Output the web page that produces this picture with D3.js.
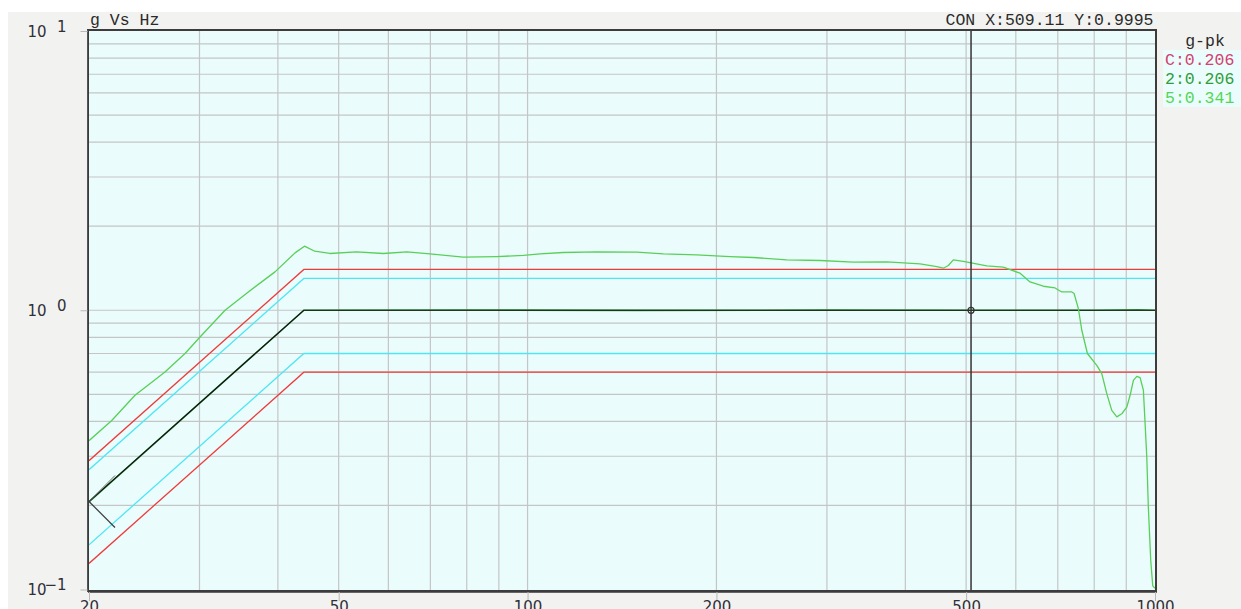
<!DOCTYPE html>
<html>
<head>
<meta charset="utf-8">
<script src="https://cdn.jsdelivr.net/npm/d3@7"></script>
<style>
  html, body { margin: 0; padding: 0; background: #ffffff; }
  svg { display: block; }
</style>
</head>
<body>
<svg id="chart" width="1241" height="609"></svg>
<script>
// ---- sweep profile breakpoints (Hz, g-pk) ----
const profileFreq = [20, 44, 1000];
const profileRef  = [0.2066, 1.0, 1.0];
const abortHigh   = [0.2893, 1.4, 1.4];
const alarmHigh   = [0.2686, 1.3, 1.3];
const alarmLow    = [0.1446, 0.7, 0.7];
const abortLow    = [0.1240, 0.6, 0.6];

// ---- channel 2 (tracks the control) ----
const ch2Freq = [20, 44, 80, 150, 300, 509.11, 800, 940, 1000];
const ch2Val  = [0.206, 1.0, 1.002, 0.999, 1.001, 0.9995, 1.0, 1.004, 1.0];

// ---- channel 5 response ----
const ch5Freq = [20, 21.74, 23.68, 26.43, 28.45, 30.06, 32.95, 35.89, 39.58, 42.6,
  44.1, 45.8, 48.4, 53.4, 58.9, 64.2, 69.9, 79.0, 89.3, 98.5,
  104.7, 114.0, 128.9, 149.3, 164.6, 186.0, 210.2, 229.0, 258.9, 292.6,
  330.6, 373.7, 422.3, 448.9, 459.9, 468.4, 477.1, 495.0, 539.3, 573.1,
  609.4, 632.2, 663.8, 693.0, 710.2, 736.9, 743.1, 754.9, 764.4, 780.3,
  807.6, 822.6, 837.8, 853.3, 869.2, 885.3, 901.7, 912.7, 923.8, 935.4,
  946.8, 958.3, 964.3, 970.3, 975.9, 984.5, 991.8, 1000];
const ch5Val = [0.341, 0.403, 0.496, 0.601, 0.700, 0.802, 1.000, 1.163, 1.372, 1.605,
  1.696, 1.627, 1.597, 1.618, 1.597, 1.618, 1.591, 1.549, 1.557, 1.571,
  1.591, 1.610, 1.618, 1.614, 1.591, 1.578, 1.557, 1.545, 1.515, 1.507,
  1.486, 1.490, 1.465, 1.434, 1.414, 1.446, 1.515, 1.495, 1.441, 1.426,
  1.357, 1.263, 1.219, 1.202, 1.163, 1.163, 1.148, 1.014, 0.848, 0.700,
  0.635, 0.593, 0.503, 0.438, 0.415, 0.426, 0.450, 0.496, 0.561, 0.580,
  0.574, 0.517, 0.393, 0.298, 0.197, 0.127, 0.103, 0.101];

// ---- cursor readout ----
const cursorFreq = 509.11;
const cursorVal = 0.9995;

// ---- axis ticks and labels ----
const xTickValues = [20, 50, 100, 200, 500, 1000];
const xGridValues = [30, 40, 50, 60, 70, 80, 90, 100, 200, 300, 400, 500, 600, 700, 800, 900];
const yGridValues = [0.2, 0.3, 0.4, 0.5, 0.6, 0.7, 0.8, 0.9, 1, 2, 3, 4, 5, 6, 7, 8, 9];
const yTickValues = [0.1, 1, 10];
const yTickExponents = ["\u22121", "0", "1"];

// ---- legend ----
const legendTitle = "g-pk";
const legendNames = ["C", "2", "5"];
const legendValues = [0.206, 0.206, 0.341];
const legendColors = ["#d2426e", "#2f9e3a", "#55d655"];

const titleText = "g Vs Hz";

const svg = d3.select("#chart");
const W = 1241, H = 609;
const plot = { left: 88, top: 30, right: 1156, bottom: 591 };

const x = d3.scaleLog().domain([20, 1000]).range([89, 1155]);
const y = d3.scaleLog().domain([0.1, 10]).range([589.5, 31]);

const monoFont = "'Liberation Mono', 'DejaVu Sans Mono', monospace";
const sansFont = "'DejaVu Sans', Verdana, sans-serif";

// panel background
svg.append("rect").attr("x", 0).attr("y", 0).attr("width", W).attr("height", H).attr("fill", "#ffffff");
svg.append("rect").attr("x", 8).attr("y", 12).attr("width", W - 8).attr("height", H - 12).attr("fill", "#f2f3f0");

// plot area
svg.append("rect")
  .attr("x", plot.left).attr("y", plot.top)
  .attr("width", plot.right - plot.left).attr("height", plot.bottom - plot.top)
  .attr("fill", "#ebfcfd");

svg.append("defs").append("clipPath").attr("id", "plotClip")
  .append("rect")
  .attr("x", plot.left + 1).attr("y", plot.top + 1)
  .attr("width", plot.right - plot.left - 2).attr("height", plot.bottom - plot.top - 2);

const grid = svg.append("g").attr("clip-path", "url(#plotClip)");
grid.selectAll("line.vg").data(xGridValues).join("line")
  .attr("class", "vg")
  .attr("x1", d => x(d)).attr("x2", d => x(d))
  .attr("y1", plot.top).attr("y2", plot.bottom)
  .attr("stroke", "#c4c6c6").attr("stroke-width", 1.2);
grid.selectAll("line.hg").data(yGridValues).join("line")
  .attr("class", "hg")
  .attr("x1", plot.left).attr("x2", plot.right)
  .attr("y1", d => y(d)).attr("y2", d => y(d))
  .attr("stroke", "#c4c6c6").attr("stroke-width", 1.2);

// data lines
const lineGen = (fs, vs) => d3.line().x((d, i) => x(fs[i])).y((d, i) => y(vs[i]))(vs);
const curves = svg.append("g").attr("clip-path", "url(#plotClip)").attr("fill", "none");

curves.append("path").attr("d", lineGen(profileFreq, abortHigh)).attr("stroke", "#f03a3a").attr("stroke-width", 1.3);
curves.append("path").attr("d", lineGen(profileFreq, alarmHigh)).attr("stroke", "#4fe6f4").attr("stroke-width", 1.3);
curves.append("path").attr("d", lineGen(profileFreq, alarmLow)).attr("stroke", "#4fe6f4").attr("stroke-width", 1.3);
curves.append("path").attr("d", lineGen(profileFreq, abortLow)).attr("stroke", "#f03a3a").attr("stroke-width", 1.3);

curves.append("path").attr("d", lineGen(ch2Freq, ch2Val)).attr("stroke", legendColors[1]).attr("stroke-width", 1.6);
curves.append("path").attr("d", lineGen(profileFreq, profileRef)).attr("stroke", "#141414").attr("stroke-width", 1.2);
curves.append("path").attr("d", lineGen(ch5Freq, ch5Val)).attr("stroke", "#58d058").attr("stroke-width", 1.3)
  .attr("stroke-linejoin", "round");

// start marker on the reference profile
const sx = x(profileFreq[0]), sy = y(profileRef[0]);
svg.append("path")
  .attr("d", `M${sx + 26},${sy - 26} L${sx},${sy}`)
  .attr("stroke", "#6a6a6a").attr("stroke-width", 1).attr("fill", "none");
svg.append("path")
  .attr("d", `M${sx},${sy} L${sx + 26},${sy + 26}`)
  .attr("stroke", "#3a3a3a").attr("stroke-width", 1.2).attr("fill", "none");

// cursor
const cx = x(cursorFreq);
svg.append("line")
  .attr("x1", cx).attr("x2", cx).attr("y1", plot.top).attr("y2", plot.bottom)
  .attr("stroke", "#333333").attr("stroke-width", 1.5);
svg.append("circle")
  .attr("cx", cx).attr("cy", y(cursorVal)).attr("r", 3)
  .attr("fill", "none").attr("stroke", "#333333").attr("stroke-width", 1.2);

// frame
svg.append("rect")
  .attr("x", plot.left).attr("y", plot.top)
  .attr("width", plot.right - plot.left).attr("height", plot.bottom - plot.top)
  .attr("fill", "none").attr("stroke", "#3c3c3c").attr("stroke-width", 2);
svg.append("line").attr("x1", plot.left - 0.5).attr("x2", plot.left - 0.5)
  .attr("y1", plot.top).attr("y2", plot.bottom + 1).attr("stroke", "#555").attr("stroke-width", 1);
svg.append("line").attr("x1", plot.left).attr("x2", plot.right + 1)
  .attr("y1", plot.bottom + 1.5).attr("y2", plot.bottom + 1.5).attr("stroke", "#666").attr("stroke-width", 1);

// x axis
const xAxis = d3.axisBottom(x)
  .tickValues(xTickValues)
  .tickFormat(d3.format("d"))
  .tickSize(9).tickPadding(0);
const gx = svg.append("g").attr("transform", `translate(0,${plot.bottom + 1})`).call(xAxis);
gx.select(".domain").remove();
gx.selectAll(".tick line").attr("stroke", "#b8b8b8");
gx.selectAll(".tick text").attr("fill", "#30303a").attr("font-family", sansFont).attr("font-size", 15);

// y axis
const yAxis = d3.axisLeft(y).tickValues(yTickValues).tickFormat("").tickSize(7);
const gy = svg.append("g").attr("transform", `translate(${plot.left - 0.5},0)`).call(yAxis);
gy.select(".domain").remove();
gy.selectAll(".tick line").attr("stroke", "#b8b8b8");
gy.selectAll(".tick").each(function (d, i) {
  const t = d3.select(this);
  t.append("text").attr("x", -41).attr("y", 5).attr("text-anchor", "end")
    .attr("fill", "#30303a").attr("font-family", sansFont).attr("font-size", 15).text("10");
  t.append("text").attr("x", -21).attr("y", 0).attr("text-anchor", "end")
    .attr("fill", "#30303a").attr("font-family", sansFont).attr("font-size", 15).text(yTickExponents[i]);
});

// header texts
svg.append("text").attr("x", 90).attr("y", 25)
  .attr("font-family", monoFont).attr("font-size", 16.5).attr("fill", "#2a2a2a")
  .text(titleText);
svg.append("text").attr("x", 1153.5).attr("y", 25).attr("text-anchor", "end")
  .attr("font-family", monoFont).attr("font-size", 16.5).attr("fill", "#2a2a2a")
  .text(`CON X:${cursorFreq.toFixed(2)} Y:${cursorVal.toFixed(4)}`);

// legend
svg.append("text").attr("x", 1205).attr("y", 46).attr("text-anchor", "middle")
  .attr("font-family", monoFont).attr("font-size", 16.5).attr("fill", "#2a2a2a")
  .text(legendTitle);
svg.append("rect").attr("x", 1163).attr("y", 50).attr("width", W - 1163).attr("height", 57)
  .attr("fill", "#ebfcfd");
svg.selectAll("text.leg").data(legendNames).join("text")
  .attr("class", "leg")
  .attr("x", 1165).attr("y", (d, i) => 64.5 + i * 19)
  .attr("font-family", monoFont).attr("font-size", 16.5)
  .attr("fill", (d, i) => legendColors[i])
  .text((d, i) => `${d}:${legendValues[i].toFixed(3)}`);
</script>
</body>
</html>
